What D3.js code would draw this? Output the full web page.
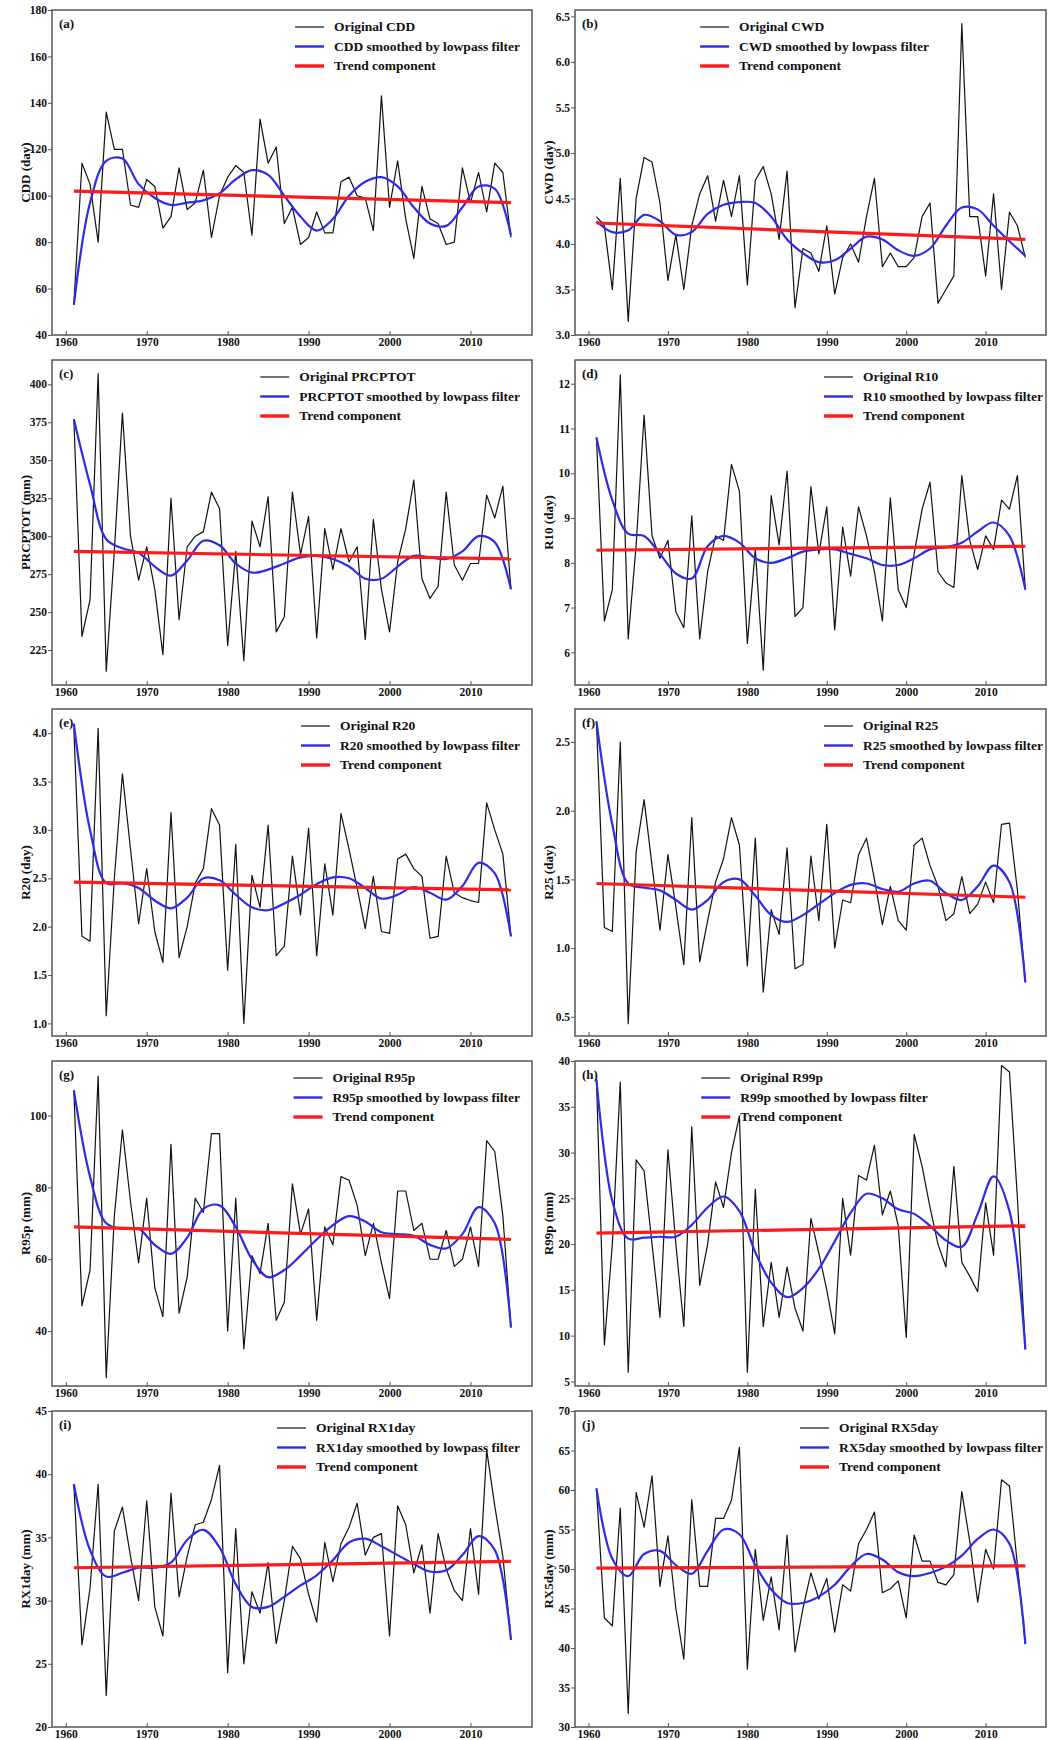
<!DOCTYPE html>
<html lang="en">
<head>
<meta charset="UTF-8">
<title>Extreme precipitation indices 1961-2015</title>
<style>
    body { margin: 0; background: #fff; }
    svg text { font-family: "Liberation Serif", "Times New Roman", serif; fill: #111; }
    .tick text { font-size: 11.5px; font-weight: bold; }
    .tick line { stroke: #555; }
    .ylab { font-size: 13px; font-weight: bold; }
    .legend text { font-size: 13.5px; font-weight: bold; }
    .plabel { font-size: 13px; font-weight: bold; }
</style>
</head>
<body>
<svg id="chart" width="1049" height="1740"></svg>
<script src="https://d3js.org/d3.v7.min.js"></script>
<script>
    // ---- data ----
    var years = [1961,1962,1963,1964,1965,1966,1967,1968,1969,1970,
                 1971,1972,1973,1974,1975,1976,1977,1978,1979,1980,
                 1981,1982,1983,1984,1985,1986,1987,1988,1989,1990,
                 1991,1992,1993,1994,1995,1996,1997,1998,1999,2000,
                 2001,2002,2003,2004,2005,2006,2007,2008,2009,2010,
                 2011,2012,2013,2014,2015];
    var smoothYears = [1961,1963,1965,1967,1969,1971,1973,1975,1977,1979,
                       1981,1983,1985,1987,1989,1991,1993,1995,1997,1999,
                       2001,2003,2005,2007,2009,2011,2013,2015];
    var trendYears = [1961, 2015];
    var xTicks = [1960, 1970, 1980, 1990, 2000, 2010];

    var cdd = [53,114,105,80,136,120,120,96,95,107,
               104,86,91,112,94,97,111,82,100,108,
               113,110,83,133,114,121,88,95,79,82,
               93,84,84,106,108,100,99,85,143,95,
               115,90,73,104,90,88,79,80,112,97,
               110,93,114,110,82];
    var cddSmooth = [53,97,115,116,105,99,96,97,98,101,107,111,109,100,91,85,90,100,106,108,104,95,88,87,95,104,103,83];
    var cddTrend = [102, 97];
    var cddTicks = [40,60,80,100,120,140,160,180];

    var cwd = [4.3,4.2,3.5,4.72,3.15,4.5,4.95,4.9,4.45,3.6,
               4.1,3.5,4.2,4.55,4.75,4.25,4.7,4.3,4.75,3.55,
               4.7,4.85,4.55,4.05,4.8,3.3,3.95,3.9,3.7,4.2,
               3.45,3.85,4.0,3.8,4.3,4.72,3.75,3.9,3.75,3.75,
               3.85,4.3,4.45,3.35,3.5,3.65,6.42,4.3,4.3,3.65,
               4.55,3.5,4.35,4.2,3.85];
    var cwdSmooth = [4.25,4.13,4.15,4.32,4.25,4.1,4.13,4.33,4.43,4.46,4.45,4.3,4.05,3.9,3.8,3.82,3.95,4.08,4.05,3.93,3.87,3.95,4.2,4.4,4.38,4.2,4.03,3.87];
    var cwdTrend = [4.23, 4.05];
    var cwdTicks = [3.0,3.5,4.0,4.5,5.0,5.5,6.0,6.5];

    var prcptot = [377,234,258,407,211,290,381,300,271,293,
                   265,222,325,245,293,300,303,329,318,228,
                   290,218,310,293,326,237,247,329,288,313,
                   233,305,278,305,283,293,232,311,265,237,
                   283,305,337,272,259,267,329,281,271,282,
                   282,327,312,333,265];
    var prcptotSmooth = [377,334,298,292,289,280,274,284,297,294,282,276,278,282,286,287,285,280,272,272,280,287,286,285,290,300,296,265];
    var prcptotTrend = [290, 285];
    var prcptotTicks = [225,250,275,300,325,350,375,400];

    var r10 = [10.8,6.7,7.4,12.2,6.3,8.4,11.3,8.6,8.1,8.5,
               6.9,6.55,9.05,6.3,7.8,8.6,8.5,10.2,9.6,6.2,
               8.3,5.6,9.5,8.4,10.05,6.8,7.0,9.7,8.2,9.25,
               6.5,8.8,7.7,9.25,8.6,7.8,6.7,9.45,7.4,7.0,
               8.2,9.2,9.8,7.8,7.55,7.45,9.95,8.5,7.85,8.6,
               8.3,9.4,9.2,9.95,7.4];
    var r10Smooth = [10.8,9.4,8.65,8.6,8.2,7.76,7.65,8.37,8.6,8.45,8.1,8.0,8.1,8.25,8.3,8.3,8.2,8.1,7.95,7.95,8.1,8.3,8.35,8.45,8.7,8.9,8.6,7.4];
    var r10Trend = [8.28, 8.37];
    var r10Ticks = [6,7,8,9,10,11,12];

    var r20 = [4.05,1.9,1.85,4.05,1.08,2.5,3.58,2.8,2.03,2.6,
               1.95,1.63,3.18,1.68,2.0,2.45,2.6,3.22,3.05,1.55,
               2.85,1.0,2.53,2.2,3.05,1.7,1.8,2.73,2.12,3.02,
               1.7,2.65,2.12,3.17,2.8,2.4,1.98,2.52,1.95,1.93,
               2.7,2.75,2.6,2.52,1.88,1.9,2.73,2.35,2.3,2.27,
               2.25,3.28,3.0,2.75,1.9];
    var r20Smooth = [4.1,3.0,2.45,2.45,2.4,2.27,2.19,2.3,2.5,2.48,2.33,2.2,2.17,2.24,2.33,2.44,2.51,2.5,2.4,2.29,2.33,2.41,2.35,2.28,2.42,2.66,2.55,1.9];
    var r20Trend = [2.46, 2.38];
    var r20Ticks = [1.0,1.5,2.0,2.5,3.0,3.5,4.0];

    var r25 = [2.65,1.15,1.12,2.5,0.45,1.7,2.08,1.6,1.13,1.68,
               1.3,0.88,1.95,0.9,1.2,1.48,1.65,1.95,1.75,0.87,
               1.8,0.68,1.28,1.1,1.73,0.85,0.88,1.67,1.2,1.9,
               1.0,1.35,1.33,1.68,1.8,1.5,1.17,1.45,1.2,1.13,
               1.75,1.8,1.6,1.45,1.2,1.25,1.52,1.25,1.32,1.48,
               1.33,1.9,1.91,1.42,0.75];
    var r25Smooth = [2.65,1.9,1.47,1.44,1.42,1.35,1.28,1.35,1.48,1.5,1.38,1.24,1.19,1.24,1.32,1.4,1.46,1.47,1.43,1.41,1.47,1.49,1.4,1.35,1.45,1.6,1.48,0.75];
    var r25Trend = [1.47, 1.37];
    var r25Ticks = [0.5,1.0,1.5,2.0,2.5];

    var r95p = [107,47,57,111,27,72,96,76,59,77,
                52,44,92,45,55,77,73,95,95,40,
                77,35,61,56,70,43,48,81,67,74,
                43,69,64,83,82,75,61,70,59,49,
                79,79,68,70,60,60,68,58,60,69,
                58,93,90,72,41];
    var r95pSmooth = [107,83,70,68.5,68.5,64,61.5,66,74,75,69,60,55,57,61,65.5,69.5,72,70.5,67.5,67,66.5,64,63,67,74.5,70,41];
    var r95pTrend = [69, 65.5];
    var r95pTicks = [40,60,80,100];

    var r99p = [38,9,20,37.7,6,29.2,28,20,12,30.3,
                20,11,32.8,15.5,20,26.8,24,30,34,6,
                26,11,18,12,17.5,13,10.5,22.8,19,15,
                10.2,25,18.8,27.5,27,30.8,23.2,25.8,22,9.8,
                32,28.5,24,20,17.5,28.5,18,16.5,14.8,24.5,
                18.8,39.5,38.8,25,8.5];
    var r99pSmooth = [38,24.7,20.6,20.7,20.8,20.8,22.1,24,25.2,23.6,19.1,15.8,14.2,15.2,17.3,20.3,23.4,25.5,25,23.8,23.3,22,20.4,19.7,23.3,27.4,23.6,8.5];
    var r99pTrend = [21.2, 22.0];
    var r99pTicks = [5,10,15,20,25,30,35,40];

    var rx1day = [39.2,26.5,31,39.2,22.5,35.5,37.4,33.5,30,37.9,
                  29.5,27.2,38.5,30.3,33.5,36,36.2,38,40.7,24.3,
                  35.7,25,30.7,29,33,26.6,30,34.3,33.3,30.5,
                  28.3,34.6,31.5,34.5,35.8,37.7,33.6,35,35.3,27.2,
                  37.5,36,32.2,34.4,29,35.3,32.5,30.8,30,35.7,
                  30.5,41.9,37.5,33.5,26.9];
    var rx1daySmooth = [39.2,34,31.9,32.2,32.6,32.6,33,34.8,35.6,34.2,31.3,29.5,29.5,30.3,31.2,32,33.2,34.6,34.9,34.3,33.6,32.9,32.3,32.4,33.6,35.1,34,26.9];
    var rx1dayTrend = [32.6, 33.1];
    var rx1dayTicks = [20,25,30,35,40,45];

    var rx5day = [60.2,43.8,42.8,57.7,31.7,59.7,55.3,61.8,47.8,54.2,
                  45,38.6,58.8,47.8,47.8,56.4,56.4,58.7,65.4,37.3,
                  52.5,43.5,49,42.3,54.3,39.5,45,49.5,46.2,48.8,
                  42,48,47.2,53.2,55,57.2,47,47.5,48.5,43.8,
                  54.3,51,51,48.3,48,49.3,59.8,53.5,45.8,52.5,
                  50,61.3,60.5,50.5,40.5];
    var rx5daySmooth = [60.2,51.3,49.1,51.9,52.3,50.5,49.4,52.3,55,54.4,50.5,47.4,45.7,45.7,46.5,48,50.3,51.9,51.2,49.6,49.1,49.5,50.3,51.7,53.8,55,53.2,40.5];
    var rx5dayTrend = [50.1, 50.4];
    var rx5dayTicks = [30,35,40,45,50,55,60,65,70];

    // ---- panel setup ----
    var panels = [
        {tag: "(a)", name: "CDD",     unit: "day", values: cdd,     smooth: cddSmooth,     trend: cddTrend,     ticks: cddTicks,     domain: [40, 180],     fmt: "d",   legend: "right"},
        {tag: "(b)", name: "CWD",     unit: "day", values: cwd,     smooth: cwdSmooth,     trend: cwdTrend,     ticks: cwdTicks,     domain: [3.0, 6.57],   fmt: ".1f", legend: "center"},
        {tag: "(c)", name: "PRCPTOT", unit: "mm",  values: prcptot, smooth: prcptotSmooth, trend: prcptotTrend, ticks: prcptotTicks, domain: [202, 416],    fmt: "d",   legend: "right"},
        {tag: "(d)", name: "R10",     unit: "day", values: r10,     smooth: r10Smooth,     trend: r10Trend,     ticks: r10Ticks,     domain: [5.27, 12.53], fmt: "d",   legend: "right"},
        {tag: "(e)", name: "R20",     unit: "day", values: r20,     smooth: r20Smooth,     trend: r20Trend,     ticks: r20Ticks,     domain: [0.87, 4.25],  fmt: ".1f", legend: "right"},
        {tag: "(f)", name: "R25",     unit: "day", values: r25,     smooth: r25Smooth,     trend: r25Trend,     ticks: r25Ticks,     domain: [0.36, 2.74],  fmt: ".1f", legend: "right"},
        {tag: "(g)", name: "R95p",    unit: "mm",  values: r95p,    smooth: r95pSmooth,    trend: r95pTrend,    ticks: r95pTicks,    domain: [24.7, 115.2], fmt: "d",   legend: "right"},
        {tag: "(h)", name: "R99p",    unit: "mm",  values: r99p,    smooth: r99pSmooth,    trend: r99pTrend,    ticks: r99pTicks,    domain: [4.5, 40],     fmt: "d",   legend: "center"},
        {tag: "(i)", name: "RX1day",  unit: "mm",  values: rx1day,  smooth: rx1daySmooth,  trend: rx1dayTrend,  ticks: rx1dayTicks,  domain: [20, 45],      fmt: "d",   legend: "right"},
        {tag: "(j)", name: "RX5day",  unit: "mm",  values: rx5day,  smooth: rx5daySmooth,  trend: rx5dayTrend,  ticks: rx5dayTicks,  domain: [30, 70],      fmt: "d",   legend: "right"}
    ];

    var cols = [{x0: 52, x1: 532, pad: 12}, {x0: 575, x1: 1046, pad: 3}];
    var rows = [{y0: 10, y1: 335}, {y0: 360, y1: 685}, {y0: 709, y1: 1036}, {y0: 1061, y1: 1386}, {y0: 1411, y1: 1727}];
    var xDomain = [1958.3, 2017.6];

    var blue = "#2b2be8";
    var red = "#ff1a1a";

    var svg = d3.select("#chart");

    panels.forEach(function(p, i) {
        var c = cols[i % 2];
        var r = rows[Math.floor(i / 2)];

        var x = d3.scaleLinear().domain(xDomain).range([c.x0, c.x1]);
        var y = d3.scaleLinear().domain(p.domain).range([r.y1, r.y0]);

        var g = svg.append("g");

        g.append("clipPath").attr("id", "clip" + i)
            .append("rect")
            .attr("x", c.x0).attr("y", r.y0)
            .attr("width", c.x1 - c.x0).attr("height", r.y1 - r.y0);

        var plot = g.append("g").attr("clip-path", "url(#clip" + i + ")");

        var raw = years.map(function(yr, k) { return [yr, p.values[k]]; });
        var smo = smoothYears.map(function(yr, k) { return [yr, p.smooth[k]]; });
        var tr = trendYears.map(function(yr, k) { return [yr, p.trend[k]]; });

        var line = d3.line().x(function(d) { return x(d[0]); }).y(function(d) { return y(d[1]); });

        plot.append("path").datum(raw)
            .attr("d", line)
            .attr("fill", "none")
            .attr("stroke", "#111")
            .attr("stroke-width", 1.2)
            .attr("stroke-linejoin", "round");

        plot.append("path").datum(smo)
            .attr("d", line.curve(d3.curveCatmullRom.alpha(0.5)))
            .attr("fill", "none")
            .attr("stroke", blue)
            .attr("stroke-width", 2.2);

        plot.append("path").datum(tr)
            .attr("d", line.curve(d3.curveLinear))
            .attr("fill", "none")
            .attr("stroke", red)
            .attr("stroke-width", 3.2);

        // frame
        g.append("rect")
            .attr("x", c.x0).attr("y", r.y0)
            .attr("width", c.x1 - c.x0).attr("height", r.y1 - r.y0)
            .attr("fill", "none")
            .attr("stroke", "#555")
            .attr("stroke-width", 1.5);

        // axes
        var ya = g.append("g")
            .attr("transform", "translate(" + c.x0 + ",0)")
            .call(d3.axisLeft(y).tickValues(p.ticks).tickFormat(d3.format(p.fmt)).tickSize(4).tickPadding(1));
        ya.select(".domain").remove();

        var xa = g.append("g")
            .attr("transform", "translate(0," + r.y1 + ")")
            .call(d3.axisBottom(x).tickValues(xTicks).tickFormat(d3.format("d")).tickSize(-4).tickPadding(3));
        xa.select(".domain").remove();

        // y label
        g.append("text")
            .attr("class", "ylab")
            .attr("transform", "translate(" + (c.x0 - 27) + "," + ((r.y0 + r.y1) / 2) + ") rotate(-90)")
            .attr("text-anchor", "middle")
            .attr("dy", "0.35em")
            .text(p.name + " (" + p.unit + ")");

        // panel tag
        g.append("text")
            .attr("class", "plabel")
            .attr("x", c.x0 + 7)
            .attr("y", r.y0 + 18)
            .text(p.tag);

        // legend
        var items = [
            {label: "Original " + p.name, color: "#111", w: 1.2},
            {label: p.name + " smoothed by lowpass filter", color: blue, w: 2.4},
            {label: "Trend component", color: red, w: 3.4}
        ];
        var leg = g.append("g").attr("class", "legend");
        var rowsG = leg.selectAll("g").data(items).enter().append("g")
            .attr("transform", function(d, k) { return "translate(0," + (r.y0 + 17 + k * 19.5) + ")"; });
        rowsG.append("line")
            .attr("x1", 0).attr("x2", 29)
            .attr("stroke", function(d) { return d.color; })
            .attr("stroke-width", function(d) { return d.w; });
        rowsG.append("text")
            .attr("x", 39)
            .attr("dy", "0.33em")
            .text(function(d) { return d.label; });

        var maxW = 0;
        rowsG.selectAll("text").each(function() { maxW = Math.max(maxW, this.getComputedTextLength()); });
        var total = 39 + maxW;
        var lx = p.legend === "right" ? c.x1 - c.pad - total : (c.x0 + c.x1) / 2 - total / 2 + 4;
        leg.attr("transform", "translate(" + lx + ",0)");
    });
</script>
</body>
</html>
